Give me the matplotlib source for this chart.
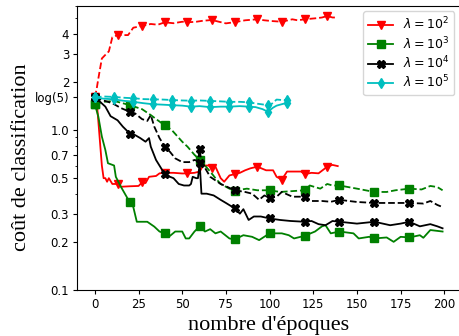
import numpy as np
import matplotlib
matplotlib.use('Agg')
import matplotlib.pyplot as plt
from matplotlib.ticker import NullFormatter

# valeurs (époque, coût)
red_solid_x = [0, 1, 4, 5, 6, 7, 8, 10, 13, 15, 20, 25, 27, 29, 31, 35, 37, 40, 45, 50, 53, 57, 60, 62,
               65, 67, 69, 72, 74, 77, 80, 83, 86, 89, 93, 98, 102, 104, 107, 110, 114, 118, 120, 124,
               128, 133, 136, 139]
red_solid_y = [1.6, 1.55, 0.6, 0.5, 0.5, 0.475, 0.5, 0.46, 0.46, 0.442, 0.445, 0.447, 0.47, 0.466, 0.51,
               0.516, 0.536, 0.54, 0.54, 0.535, 0.536, 0.54, 0.55, 0.6, 0.6, 0.58, 0.59, 0.5, 0.475, 0.52,
               0.53, 0.54, 0.56, 0.576, 0.59, 0.56, 0.56, 0.51, 0.49, 0.55, 0.55, 0.55, 0.53, 0.54, 0.536,
               0.59, 0.605, 0.595]
red_dash_x = [0, 1, 2, 4, 6, 8, 10, 13, 19, 22, 27, 32, 36, 40, 45, 50, 53, 58, 62, 67, 71, 75, 80, 86,
              93, 97, 101, 107, 113, 116, 120, 127, 130, 133, 136, 139]
red_dash_y = [1.6, 1.8, 2.1, 2.8, 2.95, 3.1, 3.8, 3.92, 3.92, 4.36, 4.47, 4.6, 4.55, 4.71, 4.65, 4.75,
              4.71, 4.75, 4.82, 4.87, 4.75, 4.64, 4.72, 4.85, 4.92, 4.85, 4.8, 4.75, 4.92, 4.85, 4.92,
              5.0, 5.05, 5.16, 5.05, 5.05]
red_marks = [0, 13, 27, 40, 53, 67, 80, 93, 107, 120, 133]

green_solid_x = [0, 2, 4, 6, 7.5, 11, 12, 15, 20, 22, 24, 30, 34, 37, 40, 43, 46, 50, 52, 54, 57, 60,
                 63, 66, 69, 72, 77, 80, 85, 90, 94, 100, 107, 111, 114, 120, 126, 130, 132, 135, 140,
                 148, 151, 157, 160, 167, 171, 175, 180, 186, 188, 192, 199]
green_solid_y = [1.45, 1.21, 0.91, 0.75, 0.62, 0.6, 0.51, 0.44, 0.353, 0.33, 0.267, 0.267, 0.249, 0.232,
                 0.226, 0.218, 0.232, 0.232, 0.21, 0.21, 0.232, 0.25, 0.232, 0.24, 0.226, 0.232, 0.21,
                 0.207, 0.22, 0.215, 0.205, 0.226, 0.226, 0.22, 0.21, 0.218, 0.232, 0.25, 0.254, 0.226,
                 0.232, 0.226, 0.21, 0.215, 0.21, 0.213, 0.2, 0.215, 0.213, 0.22, 0.212, 0.237, 0.232]
green_dash_x = [0, 5, 11, 15, 20, 27, 32, 36, 40, 44, 50, 53, 57, 60, 63, 66, 69, 72, 77, 80, 87, 93,
                100, 106, 113, 120, 123, 129, 133, 136, 140, 150, 160, 167, 172, 180, 187, 192, 196, 199]
green_dash_y = [1.45, 1.5, 1.52, 1.48, 1.43, 1.35, 1.24, 1.15, 1.07, 1.0, 0.845, 0.787, 0.7, 0.65, 0.6,
                0.55, 0.5, 0.46, 0.43, 0.418, 0.43, 0.42, 0.42, 0.41, 0.415, 0.42, 0.45, 0.43, 0.46,
                0.45, 0.45, 0.43, 0.41, 0.41, 0.42, 0.43, 0.425, 0.447, 0.44, 0.42]

black_solid_x = [0, 3, 6, 9, 13, 16, 20, 23, 26, 29, 31, 32, 35, 38, 40, 43, 45, 48, 51, 54, 55, 56,
                 58, 59, 60, 61, 64, 68, 72, 75, 80, 83, 85, 88, 91, 95, 100, 106, 112, 120, 124, 128,
                 132, 136, 140, 150, 160, 169, 175, 180, 186, 192, 196, 199]
black_solid_y = [1.6, 1.5, 1.4, 1.22, 1.15, 1.05, 0.95, 0.93, 0.89, 0.845, 0.89, 0.787, 0.65, 0.575,
                 0.53, 0.51, 0.5, 0.46, 0.45, 0.45, 0.46, 0.51, 0.5, 0.5, 0.62, 0.4, 0.4, 0.39, 0.366,
                 0.35, 0.324, 0.3, 0.32, 0.274, 0.288, 0.288, 0.28, 0.274, 0.27, 0.267, 0.27, 0.258,
                 0.254, 0.27, 0.267, 0.26, 0.267, 0.254, 0.26, 0.267, 0.25, 0.258, 0.25, 0.243]
black_dash_x = [0, 5, 10, 15, 20, 23, 27, 30, 32, 34, 37, 40, 43, 46, 50, 54, 57, 59, 60, 61, 63, 66,
                72, 76, 80, 86, 90, 94, 97, 100, 104, 107, 113, 120, 124, 130, 135, 140, 150, 160, 170,
                180, 188, 192, 196, 199]
black_dash_y = [1.6, 1.53, 1.47, 1.37, 1.3, 1.27, 1.17, 1.14, 1.24, 1.05, 0.89, 0.787, 0.73, 0.665,
                0.63, 0.63, 0.65, 0.64, 0.76, 0.62, 0.58, 0.51, 0.46, 0.44, 0.42, 0.41, 0.4, 0.366,
                0.39, 0.374, 0.383, 0.41, 0.383, 0.383, 0.36, 0.36, 0.356, 0.366, 0.355, 0.35, 0.35,
                0.35, 0.347, 0.36, 0.34, 0.33]
gk_marks = [0, 20, 40, 60, 80, 100, 120, 140, 160, 180]

cyan_solid_x = [0, 5, 11, 17, 22, 28, 33, 39, 44, 50, 55, 60, 66, 72, 77, 83, 88, 92, 96, 99, 102,
                104, 107, 110]
cyan_solid_y = [1.6, 1.57, 1.555, 1.52, 1.5, 1.47, 1.45, 1.44, 1.43, 1.42, 1.4, 1.41, 1.39, 1.4, 1.4,
                1.41, 1.4, 1.39, 1.35, 1.3, 1.38, 1.42, 1.45, 1.48]
cyan_dash_x = [0, 5, 11, 17, 22, 28, 33, 39, 44, 50, 55, 60, 66, 72, 77, 83, 88, 93, 99, 101, 104,
               107, 110]
cyan_dash_y = [1.6, 1.62, 1.61, 1.59, 1.58, 1.56, 1.555, 1.55, 1.54, 1.53, 1.525, 1.53, 1.52, 1.51,
               1.5, 1.5, 1.49, 1.46, 1.43, 1.45, 1.55, 1.54, 1.54]
cyan_marks = [0, 11, 22, 33, 44, 55, 66, 77, 88, 99, 110]

labels = [r'$\lambda=10^2$', r'$\lambda=10^3$', r'$\lambda=10^4$', r'$\lambda=10^5$']
ytick_vals = [0.1, 0.2, 0.3, 0.5, 0.7, 1.0, np.log(5), 2, 3, 4]
ytick_labels = ['0.1', '0.2', '0.3', '0.5', '0.7', '1.0', 'log(5)', '2', '3', '4']
xtick_vals = [0, 25, 50, 75, 100, 125, 150, 175, 200]


def idx(xs, ms):
    return [xs.index(m) for m in ms]


plt.rcParams['xtick.major.size'] = 3
plt.rcParams['ytick.major.size'] = 3
plt.rcParams['xtick.major.pad'] = 3
plt.rcParams['ytick.major.pad'] = 3
plt.rcParams['ytick.minor.size'] = 1.7

fig = plt.figure(figsize=(4.59, 3.36), dpi=100)
ax = fig.add_axes([0.1688, 0.1369, 0.8333, 0.8467])

series = [
    (red_solid_x, red_solid_y, red_dash_x, red_dash_y, red_marks, 'r', 'v'),
    (green_solid_x, green_solid_y, green_dash_x, green_dash_y, gk_marks, 'g', 's'),
    (black_solid_x, black_solid_y, black_dash_x, black_dash_y, gk_marks, 'k', 'X'),
    (cyan_solid_x, cyan_solid_y, cyan_dash_x, cyan_dash_y, cyan_marks, 'c', 'd'),
]
for (sx, sy, dx, dy, mk, col, m), lab in zip(series, labels):
    ax.plot(sx, sy, '-', color=col, marker=m, ms=5.5, lw=1.3,
            markevery=idx(sx, mk), label=lab)
    ax.plot(dx, dy, '--', color=col, marker=m, ms=5.5, lw=1.3,
            markevery=idx(dx, mk))

ax.set_yscale('log')
ax.set_ylim(0.1, 6.0)
ax.set_xlim(-9.95, 208.95)
ax.set_yticks(ytick_vals, ytick_labels)
ax.yaxis.set_minor_formatter(NullFormatter())
ax.set_xticks(xtick_vals)
ax.tick_params(labelsize=8.5)

ax.set_xlabel("nombre d'époques", fontsize=16, family='Liberation Serif', labelpad=3)
ax.set_ylabel("coût de classification", fontsize=16, family='Liberation Serif')
ax.yaxis.set_label_coords(-0.122, 0.466)
ax.legend(loc='upper right', fontsize=9, labelspacing=0.2, borderaxespad=0.45)

fig.savefig('out.png', dpi=100)
